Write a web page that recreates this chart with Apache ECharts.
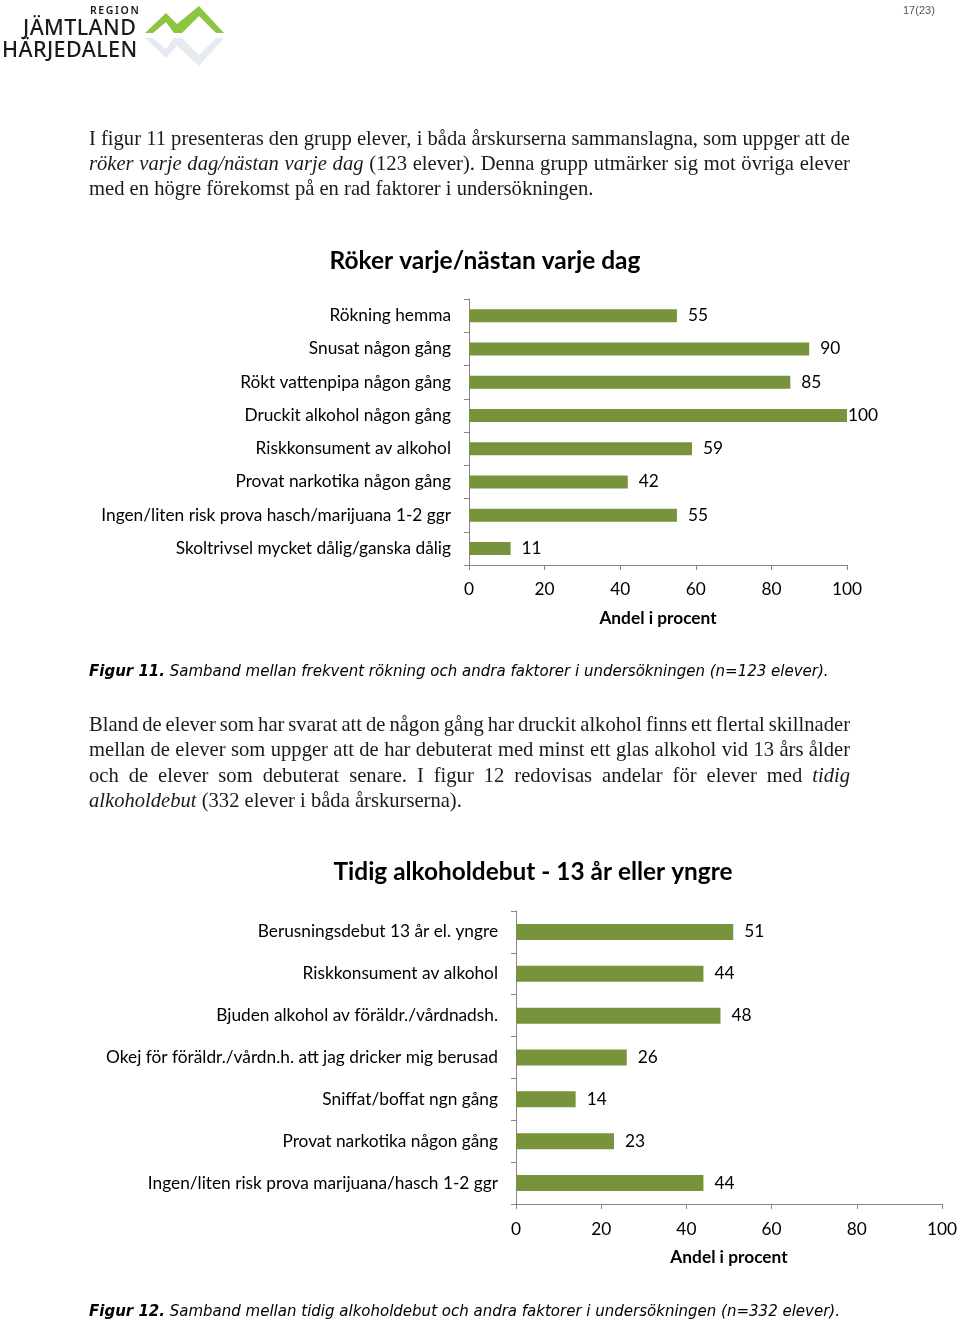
<!DOCTYPE html>
<html>
<head>
<meta charset="utf-8">
<script src="https://cdn.jsdelivr.net/npm/echarts@6/dist/echarts.min.js"></script>
<style>
  html, body { margin:0; padding:0; background:#fff; }
  #page { position:relative; width:960px; height:1322px; overflow:hidden; background:#fff; }
  #chart { position:absolute; left:0; top:0; width:960px; height:1322px; z-index:0; }
  .t { position:absolute; z-index:1; white-space:nowrap; color:#1a1a1a; }
  .body { font-family:"Liberation Serif", serif; font-size:20.6px; left:89px; width:761px; line-height:25px; }
  .just { text-align:justify; text-align-last:justify; word-spacing:-2px; }
  .cap { font-family:"DejaVu Sans", sans-serif; font-size:15px; font-style:italic; left:89px; color:#000; }
  .logo { font-family:"Noto Sans", sans-serif; color:#1a1a1a; }
</style>
</head>
<body>
<div id="page">
  <div id="chart"></div>

  <!-- logo -->
  <div class="t logo" style="left:90px;top:3px;font-size:10.5px;font-weight:600;letter-spacing:1.6px;">REGION</div>
  <div class="t logo" style="left:23px;top:12px;font-size:21.5px;font-weight:500;letter-spacing:0.4px;">JÄMTLAND</div>
  <div class="t logo" style="left:2px;top:34px;font-size:21.5px;font-weight:500;letter-spacing:0.4px;">HÄRJEDALEN</div>
  <svg class="t" style="left:140px;top:0px;" width="90" height="75">
    <polygon points="5,33 26,13 37,24 59,6 84,33 76,33 59,16 42,33 34,33 26,22 13,33" fill="#8cc63f"/>
    <polygon points="5,38 13,38 26,49 34,38 42,38 59,55 76,38 84,38 59,66 37,46 26,58" fill="#dfe6ee" opacity="0.8"/>
  </svg>
  <div class="t" style="left:903px;top:4px;font-family:'Liberation Sans',sans-serif;font-size:11px;color:#555;">17(23)</div>

  <!-- paragraph 1 -->
  <div class="t body just" style="top:126px;">I figur 11 presenteras den grupp elever, i båda årskurserna sammanslagna, som uppger att de</div>
  <div class="t body just" style="top:151px;"><i>röker varje dag/nästan varje dag</i> (123 elever). Denna grupp utmärker sig mot övriga elever</div>
  <div class="t body" style="top:176px;">med en högre förekomst på en rad faktorer i undersökningen.</div>

  <div class="t cap" style="top:662px;"><b>Figur 11.</b> Samband mellan frekvent rökning och andra faktorer i undersökningen (n=123 elever).</div>

  <!-- paragraph 2 -->
  <div class="t body just" style="top:712px;">Bland de elever som har svarat att de någon gång har druckit alkohol finns ett flertal skillnader</div>
  <div class="t body just" style="top:737px;">mellan de elever som uppger att de har debuterat med minst ett glas alkohol vid 13 års ålder</div>
  <div class="t body just" style="top:763px;">och de elever som debuterat senare. I figur 12 redovisas andelar för elever med <i>tidig</i></div>
  <div class="t body" style="top:788px;"><i>alkoholdebut</i> (332 elever i båda årskurserna).</div>

  <div class="t cap" style="top:1302px;"><b>Figur 12.</b> Samband mellan tidig alkoholdebut och andra faktorer i undersökningen (n=332 elever).</div>
</div>
<script>
// ---- data ----
const title1 = "Röker varje/nästan varje dag";
const categories1 = [
  "Rökning hemma",
  "Snusat någon gång",
  "Rökt vattenpipa någon gång",
  "Druckit alkohol någon gång",
  "Riskkonsument av alkohol",
  "Provat narkotika någon gång",
  "Ingen/liten risk prova hasch/marijuana 1-2 ggr",
  "Skoltrivsel mycket dålig/ganska dålig"
];
const values1 = [55, 90, 85, 100, 59, 42, 55, 11];

const title2 = "Tidig alkoholdebut - 13 år eller yngre";
const categories2 = [
  "Berusningsdebut 13 år el. yngre",
  "Riskkonsument av alkohol",
  "Bjuden alkohol av föräldr./vårdnadsh.",
  "Okej för föräldr./vårdn.h. att jag dricker mig berusad",
  "Sniffat/boffat ngn gång",
  "Provat narkotika någon gång",
  "Ingen/liten risk prova marijuana/hasch 1-2 ggr"
];
const values2 = [51, 44, 48, 26, 14, 23, 44];

const axisName = "Andel i procent";
const xTicks = [0, 20, 40, 60, 80, 100];

// ---- styles ----
const FONT = "Lato, 'Open Sans', sans-serif";
const FS = 17.3;
const BAR = "#77933C";
const AXIS = "#868686";

function xAxisCfg(idx, margin, gap) {
  return {
    gridIndex: idx, type: 'value', min: xTicks[0], max: xTicks[xTicks.length-1],
    interval: xTicks[1] - xTicks[0],
    axisLine: { show: true, lineStyle: { color: AXIS, width: 1 } },
    axisTick: { show: true, length: 5, lineStyle: { color: AXIS } },
    splitLine: { show: false },
    axisLabel: { color: '#000', fontFamily: FONT, fontSize: FS, margin: margin },
    name: axisName, nameLocation: 'middle', nameGap: gap,
    nameTextStyle: { color: '#000', fontFamily: FONT, fontSize: FS, fontWeight: 'bold' }
  };
}
function yAxisCfg(idx, cats) {
  return {
    gridIndex: idx, type: 'category', data: cats, inverse: true,
    axisLine: { show: true, lineStyle: { color: AXIS, width: 1 } },
    axisTick: { show: true, length: 5, alignWithLabel: false, lineStyle: { color: AXIS } },
    axisLabel: { color: '#000', fontFamily: FONT, fontSize: FS, margin: 18 }
  };
}
function seriesCfg(idx, vals, barW) {
  return {
    type: 'bar', xAxisIndex: idx, yAxisIndex: idx, barWidth: barW,
    itemStyle: { color: BAR },
    data: vals.map(v => v >= 100 ? { value: v, label: { distance: 1 } } : v),
    label: { show: true, position: 'right', distance: 11, color: '#000', fontFamily: FONT, fontSize: FS }
  };
}

const chart = echarts.init(document.getElementById('chart'), null, { renderer: 'canvas' });
chart.setOption({
  animation: false,
  backgroundColor: 'transparent',
  grid: [
    { left: 469, top: 299, width: 378, height: 266, containLabel: false },
    { left: 516, top: 911, width: 428, height: 293, containLabel: false }
  ],
  xAxis: [xAxisCfg(0, 16, 45), xAxisCfg(1, 17, 45)],
  yAxis: [yAxisCfg(0, categories1), yAxisCfg(1, categories2)],
  series: [seriesCfg(0, values1, 13), seriesCfg(1, values2, 16)],
  graphic: [
    { type: 'text', x: 485, y: 261, style: { text: title1, fontFamily: FONT, fontSize: 24.5, fontWeight: 'bold', fill: '#000', align: 'center', verticalAlign: 'middle' } },
    { type: 'text', x: 533, y: 872, style: { text: title2, fontFamily: FONT, fontSize: 24.4, fontWeight: 'bold', fill: '#000', align: 'center', verticalAlign: 'middle' } }
  ]
});
</script>
</body>
</html>
